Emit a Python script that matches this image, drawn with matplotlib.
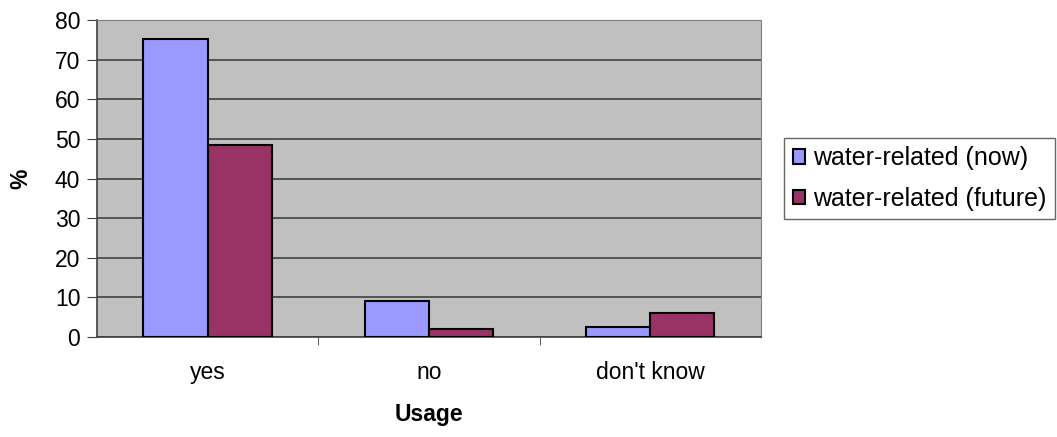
import matplotlib
matplotlib.use('Agg')
import matplotlib.pyplot as plt
import numpy as np

plt.rcParams['font.family'] = ['Liberation Sans', 'DejaVu Sans']

categories = ['yes', 'no', "don't know"]
now_vals = [75.3, 9.1, 2.6]
future_vals = [48.5, 2.0, 6.1]
series_labels = ['water-related (now)', 'water-related (future)']

fs = 16.5

fig = plt.figure(figsize=(10.57, 4.37), dpi=100)
ax = fig.add_axes([0.0918, 0.229, 0.628, 0.725])
ax.set_facecolor('#C0C0C0')

x = np.arange(len(categories))
w = 0.29
ax.bar(x - w / 2, now_vals, w, color='#9999FF', edgecolor='black', linewidth=1.5,
       label=series_labels[0], zorder=3)
ax.bar(x + w / 2, future_vals, w, color='#993366', edgecolor='black', linewidth=1.5,
       label=series_labels[1], zorder=3)

ax.set_xlim(-0.5, 2.5)
ax.set_ylim(0, 80)
ax.set_yticks(np.arange(0, 81, 10))
ax.yaxis.grid(True, color='#404040', linewidth=1.2, zorder=1)
ax.set_axisbelow(True)

ax.set_xticks(x)
ax.set_xticklabels(categories)
ax.set_xticks([0.5, 1.5], minor=True)
ax.tick_params(axis='x', which='major', length=0, pad=17, labelsize=fs)
ax.tick_params(axis='x', which='minor', length=6, color='#404040')
ax.tick_params(axis='y', length=7, pad=5, labelsize=fs, color='#404040')

for side in ['top', 'right']:
    ax.spines[side].set_color('#808080')
for side in ['left', 'bottom']:
    ax.spines[side].set_color('#404040')
    ax.spines[side].set_linewidth(1.2)

ax.set_xlabel('Usage', fontsize=fs, fontweight='bold', labelpad=14)
ax.set_ylabel('%', fontsize=fs, fontweight='bold', labelpad=16)

leg = ax.legend(loc='center left', bbox_to_anchor=(1.035, 0.5), fontsize=18,
                frameon=True, fancybox=False, edgecolor='#404040',
                handlelength=0.5, handleheight=0.5, handletextpad=0.3,
                borderpad=0.35, labelspacing=0.65, borderaxespad=0)
leg.get_frame().set_linewidth(1.0)

plt.savefig('out.png', dpi=100)
